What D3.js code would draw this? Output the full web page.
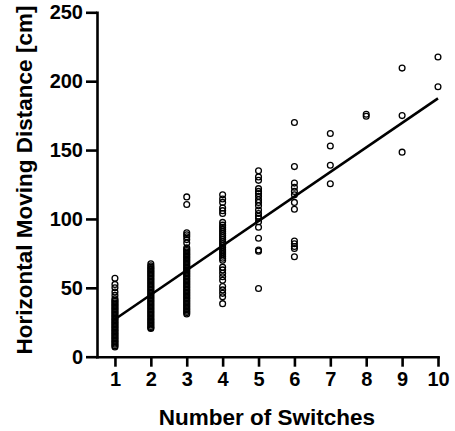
<!DOCTYPE html>
<html>
<head>
<meta charset="utf-8">
<script src="https://cdn.jsdelivr.net/npm/d3@7"></script>
<style>
  body { margin: 0; background: #fff; }
  svg text { font-family: "Liberation Sans", Arial, sans-serif; font-weight: bold; fill: #000; }
</style>
</head>
<body>
<script>
// values, one array per number of switches
var switchCounts = [1, 2, 3, 4, 5, 6, 7, 8, 9, 10];
var dist1 = [57, 52.5, 50, 47, 44.5, 42, 41, 40, 39, 38, 37, 36, 35, 34, 33, 32, 31, 30, 29, 28, 27, 26, 25, 24, 23, 22, 21, 20, 19, 18, 17, 16, 15, 14, 13, 12, 11, 10, 9, 8, 7];
var dist2 = [67.5, 66, 65, 64, 63, 62, 61, 60, 59, 58, 57, 56, 55, 54, 53, 52, 51, 50, 49, 48, 47, 46, 45, 44, 43, 42, 41, 40, 39, 38, 37, 36, 35, 34, 33, 32, 31, 30, 29, 28, 27, 26, 25, 24, 23, 22, 21, 20.5];
var dist3 = [116, 110.5, 90, 88.5, 87, 85, 82.5, 79, 78, 77, 76, 75, 74, 73, 72, 71, 70, 69, 68, 67, 66, 65, 64, 63, 62, 61, 60, 59, 58, 57, 56, 55, 54, 53, 52, 51, 50, 49, 48, 47, 46, 45, 44, 43, 42, 41, 40, 39, 38, 37, 36, 35, 34, 33, 32, 31];
var dist4 = [117.5, 114.5, 112, 108, 106, 104, 97.5, 95.5, 94, 92.5, 91, 89.5, 88, 86.5, 85, 83.5, 82, 80.5, 79, 77.5, 76, 74.5, 73, 71.5, 70, 65, 63, 60.5, 58, 55.5, 51, 48.5, 46, 43.5, 38.5];
var dist5 = [135, 130.5, 128, 122, 120, 118.5, 116.5, 114, 112, 109.5, 106.5, 104, 102, 100.5, 98, 94, 86, 77.5, 76.5, 49.5];
var dist6 = [170, 138, 126, 123, 120, 117.5, 112, 107, 84, 82, 80, 78.5, 72.5];
var dist7 = [162, 153, 139, 125.5];
var dist8 = [174.5, 176];
var dist9 = [209.5, 175, 148.5];
var dist10 = [217.5, 196];
var distances = [dist1, dist2, dist3, dist4, dist5, dist6, dist7, dist8, dist9, dist10];
// fitted line, ends
var fitX = [1, 10];
var fitY = [27.2, 187.5];
var yTicks = [0, 50, 100, 150, 200, 250];

var width = 455, height = 431;
var svg = d3.select("body").append("svg").attr("width", width).attr("height", height);

var x = d3.scaleLinear().domain([0.5, 10]).range([97, 438]);
var y = d3.scaleLinear().domain([0, 250]).range([356.7, 12.3]);

var points = [];
switchCounts.forEach(function(s, i) {
    distances[i].forEach(function(d) { points.push({ s: s, d: d }); });
});

svg.append("g").selectAll("circle").data(points).enter().append("circle")
    .attr("cx", function(p) { return x(p.s); })
    .attr("cy", function(p) { return y(p.d); })
    .attr("r", 2.9)
    .style("fill", "none")
    .style("stroke", "#000")
    .style("stroke-width", 1.3);

svg.append("line")
    .attr("x1", x(fitX[0])).attr("y1", y(fitY[0]))
    .attr("x2", x(fitX[1])).attr("y2", y(fitY[1]))
    .style("stroke", "#000").style("stroke-width", 2.6);

var xAxis = svg.append("g").attr("transform", "translate(0," + y(0) + ")")
    .call(d3.axisBottom(x).tickValues(switchCounts).tickFormat(d3.format("d"))
        .tickSize(10).tickSizeOuter(0).tickPadding(5));
var yAxis = svg.append("g").attr("transform", "translate(" + x(0.5) + ",0)")
    .call(d3.axisLeft(y).tickValues(yTicks).tickSize(11).tickSizeOuter(0).tickPadding(3));

[xAxis, yAxis].forEach(function(g) {
    g.select(".domain").style("stroke-width", 2.6).style("stroke-linecap", "square");
    g.selectAll(".tick line").style("stroke-width", 2.6);
    g.selectAll(".tick text").style("font-size", "20px").style("font-family", "Liberation Sans, Arial, sans-serif");
});

svg.append("text")
    .attr("x", 267).attr("y", 425)
    .attr("text-anchor", "middle")
    .style("font-size", "22.5px")
    .text("Number of Switches");

svg.append("text")
    .attr("transform", "translate(32,180) rotate(-90)")
    .attr("text-anchor", "middle")
    .style("font-size", "22.5px")
    .text("Horizontal Moving Distance [cm]");
</script>
</body>
</html>
